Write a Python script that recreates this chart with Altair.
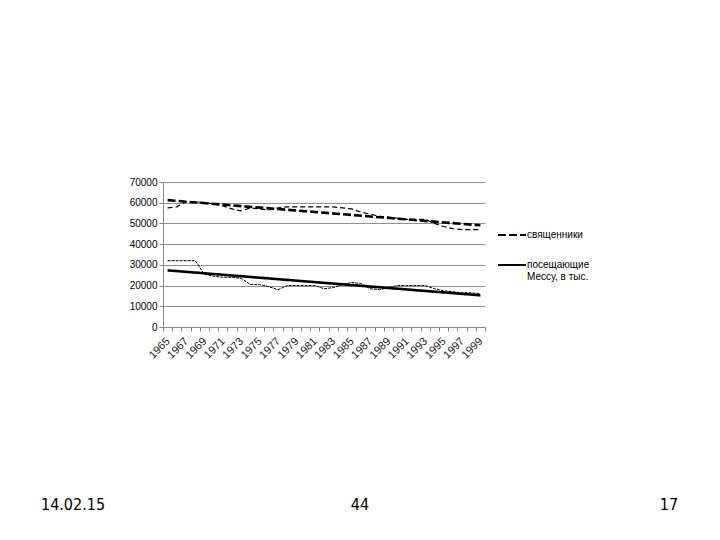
import altair as alt
import pandas as pd

years = list(range(1965, 2000))
priests = [57500, 58000, 60500, 60500, 60000, 59500, 58500, 57000, 56000, 57500,
           57000, 56500, 57500, 58000, 58000, 58000, 58000, 58000, 58000, 57500,
           57000, 55500, 54500, 53500, 53000, 52500, 52000, 52000, 52000, 50000,
           48500, 47500, 47000, 47000, 47000]
mass = [32000, 32000, 32000, 32000, 25500, 24500, 24000, 24000, 23500, 20500,
        20500, 19500, 18000, 20000, 20000, 20000, 20000, 18500, 19000, 20500,
        21500, 21000, 18500, 18000, 19000, 20000, 20000, 20000, 20000, 18500,
        17500, 17000, 16500, 16500, 16000]
series_names = ["священники", "посещающие Мессу, в тыс."]
y_ticks = [0, 10000, 20000, 30000, 40000, 50000, 60000, 70000]
footer = ["14.02.15", "44", "17"]

df = pd.DataFrame({
    "year": years * 2,
    "value": priests + mass,
    "series": [series_names[0]] * len(years) + [series_names[1]] * len(years),
})

x_enc = alt.X(
    "year:O",
    bandPosition=0.5,
    scale=alt.Scale(type="band", paddingInner=0, paddingOuter=0),
    axis=alt.Axis(
        title=None, grid=False, tickBand="extent",
        labelExpr="datum.value % 2 == 1 ? datum.label : ''",
        labelAngle=315, labelAlign="right", labelBaseline="top",
        labelFontSize=11, labelColor="#222222", labelPadding=4, labelOffset=-4,
        tickSize=4, tickColor="#888888", domainColor="#888888",
    ),
)
y_enc = alt.Y(
    "value:Q",
    scale=alt.Scale(domain=[0, 70000], nice=False),
    axis=alt.Axis(
        title=None, values=y_ticks, format="d", grid=True,
        gridColor="#909090", domainColor="#888888", tickColor="#888888",
        tickSize=4, labelFontSize=10, labelColor="black", labelPadding=2,
    ),
)

base = alt.Chart(df)

thin_priests = base.transform_filter(
    alt.datum.series == series_names[0]
).mark_line(color="black", strokeWidth=1.2, strokeDash=[5, 3]).encode(x=x_enc, y=y_enc)

thin_mass = base.transform_filter(
    alt.datum.series == series_names[1]
).mark_line(color="black", strokeWidth=1, strokeDash=[3, 1]).encode(x=x_enc, y=y_enc)

trend = base.transform_regression(
    "year", "value", groupby=["series"]
).mark_line(color="black", strokeWidth=2.6).encode(
    x=x_enc,
    y=y_enc,
    strokeDash=alt.StrokeDash(
        "series:N",
        scale=alt.Scale(domain=series_names, range=[[8, 3], [1, 0]]),
        legend=alt.Legend(
            title=None, orient="none", legendX=334, legendY=38,
            symbolType="stroke", symbolSize=784, symbolStrokeWidth=2,
            symbolStrokeColor="black", labelFontSize=10, labelColor="black",
            labelOffset=0, rowPadding=10,
            labelExpr="datum.label == 'посещающие Мессу, в тыс.' ? ['посещающие', 'Мессу, в тыс.'] : datum.label",
        ),
    ),
)

one = pd.DataFrame({"k": [0]})
foot_font = "DejaVu Sans Condensed, Liberation Sans"
foot_left = alt.Chart(one).mark_text(
    font=foot_font, fontSize=16, color="black", align="center", baseline="middle"
).encode(x=alt.value(-90), y=alt.value(323), text=alt.value(footer[0]))
foot_mid = alt.Chart(one).mark_text(
    font=foot_font, fontSize=16, color="black", align="center", baseline="middle"
).encode(x=alt.value(197), y=alt.value(323), text=alt.value(footer[1]))
foot_right = alt.Chart(one).mark_text(
    font=foot_font, fontSize=16, color="black", align="center", baseline="middle"
).encode(x=alt.value(506), y=alt.value(323), text=alt.value(footer[2]))

chart = alt.layer(
    thin_priests, thin_mass, trend, foot_left, foot_mid, foot_right
).properties(
    width=322, height=145,
    autosize=alt.AutoSizeParams(type="none"),
    padding={"left": 155, "top": 174, "right": 227, "bottom": 205},
).configure(
    font="Liberation Sans", background="white"
).configure_view(stroke="transparent")

chart.save("out.html", embed_options={"renderer": "svg", "actions": False})
